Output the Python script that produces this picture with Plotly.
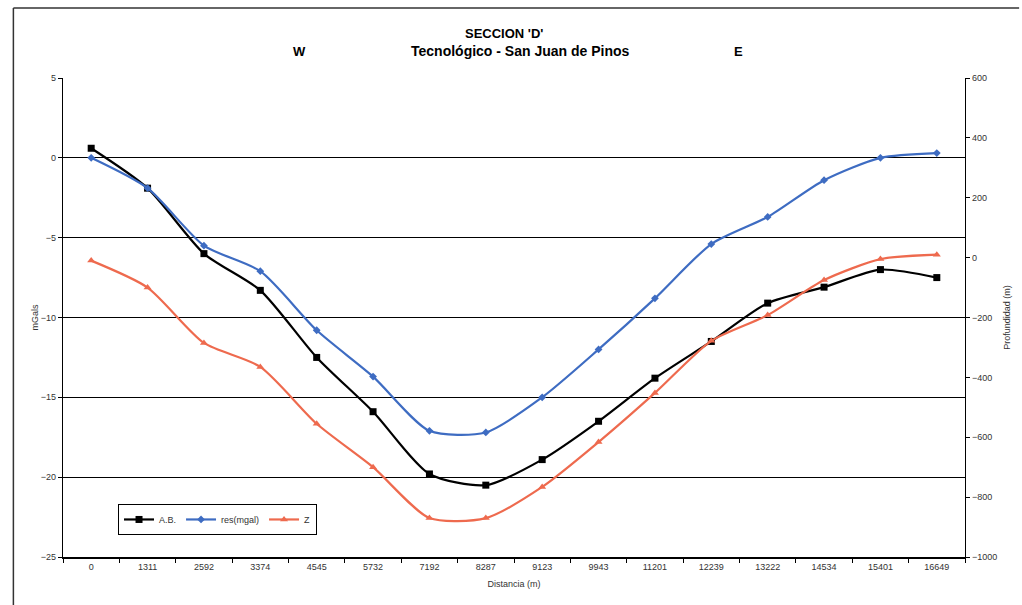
import plotly.graph_objects as go

distancia = ["0", "1311", "2592", "3374", "4545", "5732", "7192", "8287", "9123",
             "9943", "11201", "12239", "13222", "14534", "15401", "16649"]
ab = [0.6, -1.9, -6.0, -8.3, -12.5, -15.9, -19.8, -20.5, -18.9, -16.5, -13.8, -11.5, -9.1, -8.1, -7.0, -7.5]
res_mgal = [0.0, -1.9, -5.5, -7.1, -10.8, -13.7, -17.1, -17.2, -15.0, -12.0, -8.8, -5.4, -3.7, -1.4, 0.0, 0.3]
z_prof = [-10, -100, -285, -365, -555, -700, -870, -870, -766, -616, -452, -278, -192, -75, -5, 10]

BLUE = "#3e6cc2"
RED = "#ee6a4e"
FONT = "Liberation Sans, Arial, sans-serif"

fig = go.Figure()
fig.add_trace(go.Scatter(x=distancia, y=ab, name="A.B.", mode="lines+markers",
                         line=dict(color="black", width=2.2, shape="spline", smoothing=0.7),
                         marker=dict(symbol="square", size=7, color="black")))
fig.add_trace(go.Scatter(x=distancia, y=res_mgal, name="res(mgal)", mode="lines+markers",
                         line=dict(color=BLUE, width=2.2, shape="spline", smoothing=0.7),
                         marker=dict(symbol="diamond", size=6, color=BLUE)))
fig.add_trace(go.Scatter(x=distancia, y=z_prof, name="Z", mode="lines+markers", yaxis="y2",
                         line=dict(color=RED, width=2.2, shape="spline", smoothing=0.7),
                         marker=dict(symbol="triangle-up", size=7, color=RED)))

tickfont = dict(family=FONT, size=9, color="#333333")
fig.update_layout(
    width=1022, height=605,
    margin=dict(l=63, r=53, t=78, b=48),
    paper_bgcolor="white", plot_bgcolor="white",
    font=dict(family=FONT, color="#222222"),
    showlegend=True,
    legend=dict(orientation="h", x=0.061, y=0.046, xanchor="left", yanchor="bottom",
                bordercolor="black", borderwidth=1, bgcolor="white",
                font=dict(family=FONT, size=9, color="#333333"),
                itemwidth=30, tracegroupgap=0),
    xaxis=dict(type="category", range=[-0.5, 15.5], showgrid=False,
               showline=True, linecolor="black", linewidth=1.5,
               ticks="outside", ticklen=4, tickcolor="black", tickson="boundaries",
               tickfont=tickfont,
               title=dict(text="Distancia (m)", font=dict(family=FONT, size=9, color="#333333"), standoff=10),
               zeroline=False, mirror=False),
    yaxis=dict(range=[-25, 5], dtick=5, showgrid=True, gridcolor="black", gridwidth=1,
               showline=True, linecolor="black", linewidth=1.2,
               ticks="outside", ticklen=4, tickcolor="black", tickfont=tickfont,
               zeroline=False,
               title=dict(text="mGals", font=dict(family=FONT, size=9, color="#333333"), standoff=0)),
    yaxis2=dict(range=[-1000, 600], dtick=200, overlaying="y", side="right", showgrid=False,
                showline=True, linecolor="black", linewidth=1.2,
                ticks="outside", ticklen=4, tickcolor="black", tickfont=tickfont,
                zeroline=False,
                title=dict(text="Profundidad (m)", font=dict(family=FONT, size=9, color="#333333"), standoff=7)),
)

titlefont = dict(family=FONT, size=13, color="black")
fig.add_annotation(text="<b>SECCION 'D'</b>", xref="paper", yref="paper", x=0.489, y=1.0,
                   yshift=45, showarrow=False, font=titlefont,
                   xanchor="center", yanchor="middle")
fig.add_annotation(text="<b>Tecnológico - San Juan de Pinos</b>", xref="paper", yref="paper", x=0.5075, y=1.0,
                   yshift=27, showarrow=False, font=dict(family=FONT, size=14, color="black"),
                   xanchor="center", yanchor="middle")
fig.add_annotation(text="<b>W</b>", xref="paper", yref="paper", x=0.262, y=1.0,
                   yshift=27, showarrow=False, font=titlefont,
                   xanchor="center", yanchor="middle")
fig.add_annotation(text="<b>E</b>", xref="paper", yref="paper", x=0.7485, y=1.0,
                   yshift=27, showarrow=False, font=titlefont,
                   xanchor="center", yanchor="middle")

# outer frame (top and left edges of the chart box)
fig.add_shape(type="line", xref="paper", yref="paper", x0=-0.055, x1=1.06, y0=1.146, y1=1.146,
              line=dict(color="#333333", width=1.5))
fig.add_shape(type="line", xref="paper", yref="paper", x0=-0.055, x1=-0.055, y0=1.146, y1=-0.1,
              line=dict(color="#333333", width=1.5))

fig.write_html("out.html")
